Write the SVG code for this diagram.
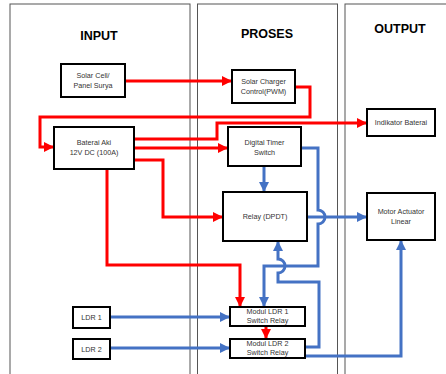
<svg xmlns="http://www.w3.org/2000/svg" width="446" height="374" viewBox="0 0 446 374">
<defs>
<style>
.panel{fill:none;stroke:#555;stroke-width:1}
.box{fill:#fff;stroke:#000;stroke-width:2}
.t{font-family:"Liberation Sans",Arial,sans-serif;font-size:7.2px;fill:#333;text-anchor:middle}
.h{font-family:"Liberation Sans",Arial,sans-serif;font-size:12.5px;font-weight:bold;fill:#000;text-anchor:middle}
.r{fill:none;stroke:#ff0000;stroke-width:3;marker-end:url(#ar)}
.b{fill:none;stroke:#4472c4;stroke-width:3;marker-end:url(#ab)}
.bn{fill:none;stroke:#4472c4;stroke-width:3}
</style>
<marker id="ar" markerUnits="userSpaceOnUse" markerWidth="10" markerHeight="10" refX="10" refY="5" orient="auto"><path d="M0,0 L10,5 L0,10 Z" fill="#ff0000"/></marker>
<marker id="ab" markerUnits="userSpaceOnUse" markerWidth="10" markerHeight="10" refX="10" refY="5" orient="auto"><path d="M0,0 L10,5 L0,10 Z" fill="#4472c4"/></marker>
</defs>
<rect width="446" height="374" fill="#fff"/>
<g id="panels">
<rect class="panel" x="10" y="4" width="180" height="380"/>
<rect class="panel" x="197.5" y="4" width="140" height="380"/>
<rect class="panel" x="345" y="4" width="110" height="380"/>
<text class="h" x="99" y="40">INPUT</text>
<text class="h" x="267" y="38">PROSES</text>
<text class="h" x="400" y="33">OUTPUT</text>
</g>
<g id="connectors">
<path class="r" d="M125,81 H232"/>
<path class="r" d="M295,87 H310 V117 H40 V147 H54"/>
<path class="r" d="M134,139 H217 V123 H367"/>
<path class="r" d="M134,148 H228"/>
<path class="r" d="M134,160 H163 V217 H223"/>
<path class="r" d="M107,169 V265 H240 V307"/>
<path class="r" d="M266,326 V339"/>
<path class="b" d="M264,166 V192"/>
<path class="b" d="M301,148 H318 V210 A7,7 0 0 1 318,224 V266 H264 V307"/>
<path class="b" d="M307,217 H367"/>
<path class="b" d="M305,347 H319 V282 H278 V273 A7,7 0 0 0 278,259 V241"/>
<path class="b" d="M305,356 H401 V240"/>
<path class="b" d="M110,317 H230"/>
<path class="b" d="M110,348 H230"/>
</g>
<g id="solar-cell"><rect class="box" x="61" y="64" width="64" height="33"/><text class="t" x="93" y="78">Solar Cell/</text><text class="t" x="93" y="88">Panel Surya</text></g>
<g id="solar-charger"><rect class="box" x="232" y="70" width="63" height="33"/><text class="t" x="263.5" y="84">Solar Charger</text><text class="t" x="263.5" y="94">Control(PWM)</text></g>
<g id="indikator"><rect class="box" x="367" y="109" width="68" height="27"/><text class="t" x="401" y="125">Indikator Baterai</text></g>
<g id="baterai"><rect class="box" x="54" y="127" width="80" height="42"/><text class="t" x="94" y="145">Baterai Aki</text><text class="t" x="94" y="155">12V DC (100A)</text></g>
<g id="timer"><rect class="box" x="228" y="127" width="73" height="39"/><text class="t" x="264.5" y="145">Digital Timer</text><text class="t" x="264.5" y="155">Switch</text></g>
<g id="relay"><rect class="box" x="223" y="192" width="84" height="49"/><text class="t" x="265" y="219">Relay (DPDT)</text></g>
<g id="motor"><rect class="box" x="367" y="193" width="68" height="47"/><text class="t" x="401" y="214">Motor Actuator</text><text class="t" x="401" y="224">Linear</text></g>
<g id="ldr1"><rect class="box" x="73" y="307" width="37" height="21"/><text class="t" x="91.5" y="320">LDR 1</text></g>
<g id="ldr2"><rect class="box" x="73" y="339" width="37" height="20"/><text class="t" x="91.5" y="351.5">LDR 2</text></g>
<g id="modul1"><rect class="box" x="230" y="307" width="75" height="19"/><text class="t" x="267.5" y="314">Modul LDR 1</text><text class="t" x="267.5" y="323">Switch Relay</text></g>
<g id="modul2"><rect class="box" x="230" y="339" width="75" height="19"/><text class="t" x="267.5" y="346">Modul LDR 2</text><text class="t" x="267.5" y="355">Switch Relay</text></g>
</svg>
